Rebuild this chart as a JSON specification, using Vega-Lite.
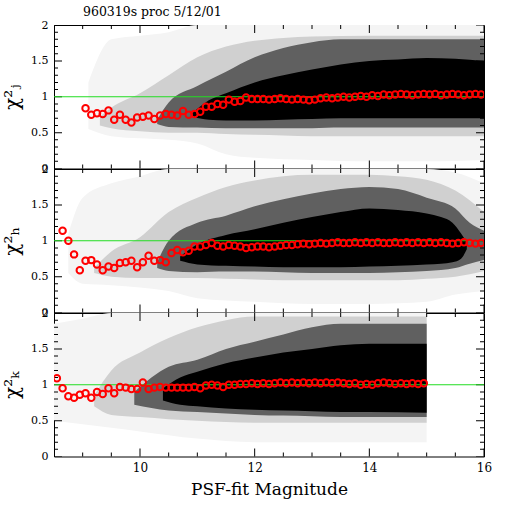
{
  "$schema": "https://vega.github.io/schema/vega-lite/v6.json",
  "background": "white",
  "padding": {"left": 2, "top": 5, "right": 5, "bottom": 5},
  "config": {
    "view": {"stroke": "black", "strokeWidth": 1},
    "axis": {
      "domain": false,
      "ticks": false,
      "grid": false,
      "labelColor": "black",
      "labelFont": "DejaVu Serif",
      "labelFontSize": 11,
      "labelOverlap": false,
      "labelFlush": false,
      "labelPadding": 6,
      "titleFont": "DejaVu Serif",
      "titleFontWeight": "normal",
      "titleColor": "black"
    },
    "tick": {"color": "black", "opacity": 1, "thickness": 1}
  },
  "datasets": {
    "ymaj": [{"v": 0}, {"v": 0.5}, {"v": 1}, {"v": 1.5}, {"v": 2}],
    "ymin": [{"v": 0.1}, {"v": 0.2}, {"v": 0.3}, {"v": 0.4}, {"v": 0.6}, {"v": 0.7}, {"v": 0.8}, {"v": 0.9},
             {"v": 1.1}, {"v": 1.2}, {"v": 1.3}, {"v": 1.4}, {"v": 1.6}, {"v": 1.7}, {"v": 1.8}, {"v": 1.9}],
    "xmaj": [{"v": 10}, {"v": 12}, {"v": 14}, {"v": 16}],
    "xmin": [{"v": 8.5}, {"v": 9}, {"v": 9.5}, {"v": 10.5}, {"v": 11}, {"v": 11.5}, {"v": 12.5}, {"v": 13},
             {"v": 13.5}, {"v": 14.5}, {"v": 15}, {"v": 15.5}],
    "cloud": [
      {"p": "J", "b": "s", "x": 9.1, "lo": 0.55, "hi": 1.2},
      {"p": "J", "b": "s", "x": 9.5, "lo": 0.45, "hi": 1.8},
      {"p": "J", "b": "s", "x": 10, "lo": 0.42, "hi": 1.85},
      {"p": "J", "b": "s", "x": 10.5, "lo": 0.4, "hi": 1.9},
      {"p": "J", "b": "s", "x": 11, "lo": 0.35, "hi": 2},
      {"p": "J", "b": "s", "x": 11.5, "lo": 0.2, "hi": 2},
      {"p": "J", "b": "s", "x": 12, "lo": 0.15, "hi": 2},
      {"p": "J", "b": "s", "x": 13, "lo": 0.12, "hi": 2},
      {"p": "J", "b": "s", "x": 14, "lo": 0.1, "hi": 2},
      {"p": "J", "b": "s", "x": 15, "lo": 0.1, "hi": 2},
      {"p": "J", "b": "s", "x": 16, "lo": 0.12, "hi": 2},
      {"p": "J", "b": "l", "x": 9.3, "lo": 0.6, "hi": 0.72},
      {"p": "J", "b": "l", "x": 9.5, "lo": 0.56, "hi": 0.85},
      {"p": "J", "b": "l", "x": 10, "lo": 0.52, "hi": 1.05},
      {"p": "J", "b": "l", "x": 10.5, "lo": 0.5, "hi": 1.3},
      {"p": "J", "b": "l", "x": 11, "lo": 0.5, "hi": 1.55},
      {"p": "J", "b": "l", "x": 11.5, "lo": 0.48, "hi": 1.7},
      {"p": "J", "b": "l", "x": 12, "lo": 0.47, "hi": 1.78},
      {"p": "J", "b": "l", "x": 12.5, "lo": 0.46, "hi": 1.82},
      {"p": "J", "b": "l", "x": 13, "lo": 0.45, "hi": 1.84},
      {"p": "J", "b": "l", "x": 14, "lo": 0.45, "hi": 1.85},
      {"p": "J", "b": "l", "x": 15, "lo": 0.45, "hi": 1.85},
      {"p": "J", "b": "l", "x": 16, "lo": 0.45, "hi": 1.85},
      {"p": "J", "b": "m", "x": 10.3, "lo": 0.62, "hi": 0.68},
      {"p": "J", "b": "m", "x": 10.5, "lo": 0.58, "hi": 0.92},
      {"p": "J", "b": "m", "x": 11, "lo": 0.57, "hi": 1.15},
      {"p": "J", "b": "m", "x": 11.5, "lo": 0.56, "hi": 1.35},
      {"p": "J", "b": "m", "x": 12, "lo": 0.56, "hi": 1.55},
      {"p": "J", "b": "m", "x": 12.5, "lo": 0.56, "hi": 1.68},
      {"p": "J", "b": "m", "x": 13, "lo": 0.56, "hi": 1.76},
      {"p": "J", "b": "m", "x": 13.5, "lo": 0.57, "hi": 1.8},
      {"p": "J", "b": "m", "x": 14, "lo": 0.57, "hi": 1.8},
      {"p": "J", "b": "m", "x": 15, "lo": 0.57, "hi": 1.8},
      {"p": "J", "b": "m", "x": 16, "lo": 0.57, "hi": 1.8},
      {"p": "J", "b": "c", "x": 10.9, "lo": 0.72, "hi": 0.76},
      {"p": "J", "b": "c", "x": 11.2, "lo": 0.68, "hi": 0.95},
      {"p": "J", "b": "c", "x": 11.5, "lo": 0.67, "hi": 1.05},
      {"p": "J", "b": "c", "x": 12, "lo": 0.67, "hi": 1.2},
      {"p": "J", "b": "c", "x": 12.5, "lo": 0.68, "hi": 1.3},
      {"p": "J", "b": "c", "x": 13, "lo": 0.69, "hi": 1.38},
      {"p": "J", "b": "c", "x": 13.5, "lo": 0.7, "hi": 1.45},
      {"p": "J", "b": "c", "x": 14, "lo": 0.7, "hi": 1.5},
      {"p": "J", "b": "c", "x": 14.5, "lo": 0.7, "hi": 1.52},
      {"p": "J", "b": "c", "x": 15, "lo": 0.7, "hi": 1.54},
      {"p": "J", "b": "c", "x": 15.5, "lo": 0.7, "hi": 1.53},
      {"p": "J", "b": "c", "x": 16, "lo": 0.7, "hi": 1.5},

      {"p": "H", "b": "s", "x": 8.75, "lo": 0.55, "hi": 1.1},
      {"p": "H", "b": "s", "x": 9, "lo": 0.4, "hi": 1.6},
      {"p": "H", "b": "s", "x": 9.5, "lo": 0.38, "hi": 1.8},
      {"p": "H", "b": "s", "x": 10, "lo": 0.35, "hi": 1.9},
      {"p": "H", "b": "s", "x": 10.5, "lo": 0.3, "hi": 2},
      {"p": "H", "b": "s", "x": 11, "lo": 0.2, "hi": 2},
      {"p": "H", "b": "s", "x": 12, "lo": 0.15, "hi": 2},
      {"p": "H", "b": "s", "x": 13, "lo": 0.12, "hi": 2},
      {"p": "H", "b": "s", "x": 14, "lo": 0.12, "hi": 2},
      {"p": "H", "b": "s", "x": 15, "lo": 0.15, "hi": 2},
      {"p": "H", "b": "s", "x": 15.5, "lo": 0.25, "hi": 1.95},
      {"p": "H", "b": "s", "x": 16, "lo": 0.3, "hi": 1.8},
      {"p": "H", "b": "l", "x": 9.2, "lo": 0.55, "hi": 0.62},
      {"p": "H", "b": "l", "x": 9.5, "lo": 0.5, "hi": 0.85},
      {"p": "H", "b": "l", "x": 10, "lo": 0.48, "hi": 1.05},
      {"p": "H", "b": "l", "x": 10.5, "lo": 0.48, "hi": 1.4},
      {"p": "H", "b": "l", "x": 11, "lo": 0.48, "hi": 1.6},
      {"p": "H", "b": "l", "x": 11.5, "lo": 0.47, "hi": 1.75},
      {"p": "H", "b": "l", "x": 12, "lo": 0.46, "hi": 1.84},
      {"p": "H", "b": "l", "x": 12.5, "lo": 0.45, "hi": 1.9},
      {"p": "H", "b": "l", "x": 13, "lo": 0.45, "hi": 1.92},
      {"p": "H", "b": "l", "x": 14, "lo": 0.45, "hi": 1.92},
      {"p": "H", "b": "l", "x": 14.5, "lo": 0.45, "hi": 1.9},
      {"p": "H", "b": "l", "x": 15, "lo": 0.47, "hi": 1.85},
      {"p": "H", "b": "l", "x": 15.5, "lo": 0.5, "hi": 1.7},
      {"p": "H", "b": "l", "x": 16, "lo": 0.58, "hi": 1.4},
      {"p": "H", "b": "m", "x": 10.3, "lo": 0.62, "hi": 0.7},
      {"p": "H", "b": "m", "x": 10.5, "lo": 0.58, "hi": 1.0},
      {"p": "H", "b": "m", "x": 11, "lo": 0.56, "hi": 1.25},
      {"p": "H", "b": "m", "x": 11.5, "lo": 0.57, "hi": 1.35},
      {"p": "H", "b": "m", "x": 12, "lo": 0.57, "hi": 1.48},
      {"p": "H", "b": "m", "x": 12.5, "lo": 0.56, "hi": 1.58},
      {"p": "H", "b": "m", "x": 13, "lo": 0.55, "hi": 1.66},
      {"p": "H", "b": "m", "x": 13.5, "lo": 0.55, "hi": 1.72},
      {"p": "H", "b": "m", "x": 14, "lo": 0.55, "hi": 1.75},
      {"p": "H", "b": "m", "x": 14.5, "lo": 0.56, "hi": 1.72},
      {"p": "H", "b": "m", "x": 15, "lo": 0.58, "hi": 1.6},
      {"p": "H", "b": "m", "x": 15.5, "lo": 0.62, "hi": 1.45},
      {"p": "H", "b": "m", "x": 15.75, "lo": 0.68, "hi": 1.25},
      {"p": "H", "b": "m", "x": 16, "lo": 0.73, "hi": 1.14},
      {"p": "H", "b": "c", "x": 10.7, "lo": 0.72, "hi": 0.78},
      {"p": "H", "b": "c", "x": 11, "lo": 0.67, "hi": 0.95},
      {"p": "H", "b": "c", "x": 11.5, "lo": 0.65, "hi": 1.08},
      {"p": "H", "b": "c", "x": 12, "lo": 0.64, "hi": 1.16},
      {"p": "H", "b": "c", "x": 12.5, "lo": 0.63, "hi": 1.25},
      {"p": "H", "b": "c", "x": 13, "lo": 0.63, "hi": 1.33},
      {"p": "H", "b": "c", "x": 13.5, "lo": 0.63, "hi": 1.4},
      {"p": "H", "b": "c", "x": 14, "lo": 0.64, "hi": 1.45},
      {"p": "H", "b": "c", "x": 14.5, "lo": 0.65, "hi": 1.43},
      {"p": "H", "b": "c", "x": 15, "lo": 0.67, "hi": 1.38},
      {"p": "H", "b": "c", "x": 15.25, "lo": 0.68, "hi": 1.33},
      {"p": "H", "b": "c", "x": 15.45, "lo": 0.7, "hi": 1.25},
      {"p": "H", "b": "c", "x": 15.6, "lo": 0.75, "hi": 1.1},
      {"p": "H", "b": "c", "x": 15.7, "lo": 0.88, "hi": 0.98},

      {"p": "K", "b": "s", "x": 8.5, "lo": 0.5, "hi": 1.85},
      {"p": "K", "b": "s", "x": 9, "lo": 0.45, "hi": 1.92},
      {"p": "K", "b": "s", "x": 9.5, "lo": 0.4, "hi": 2},
      {"p": "K", "b": "s", "x": 10, "lo": 0.35, "hi": 2},
      {"p": "K", "b": "s", "x": 11, "lo": 0.25, "hi": 2},
      {"p": "K", "b": "s", "x": 12, "lo": 0.2, "hi": 2},
      {"p": "K", "b": "s", "x": 15, "lo": 0.2, "hi": 2},
      {"p": "K", "b": "l", "x": 9.2, "lo": 0.7, "hi": 0.85},
      {"p": "K", "b": "l", "x": 9.5, "lo": 0.58, "hi": 1.2},
      {"p": "K", "b": "l", "x": 10, "lo": 0.55, "hi": 1.45},
      {"p": "K", "b": "l", "x": 10.5, "lo": 0.52, "hi": 1.65},
      {"p": "K", "b": "l", "x": 11, "lo": 0.5, "hi": 1.8},
      {"p": "K", "b": "l", "x": 11.5, "lo": 0.48, "hi": 1.9},
      {"p": "K", "b": "l", "x": 12, "lo": 0.47, "hi": 1.95},
      {"p": "K", "b": "l", "x": 15, "lo": 0.47, "hi": 1.95},
      {"p": "K", "b": "m", "x": 9.9, "lo": 0.72, "hi": 0.9},
      {"p": "K", "b": "m", "x": 10.5, "lo": 0.64, "hi": 1.25},
      {"p": "K", "b": "m", "x": 11, "lo": 0.62, "hi": 1.35},
      {"p": "K", "b": "m", "x": 11.5, "lo": 0.6, "hi": 1.5},
      {"p": "K", "b": "m", "x": 12, "lo": 0.58, "hi": 1.6},
      {"p": "K", "b": "m", "x": 12.5, "lo": 0.57, "hi": 1.7},
      {"p": "K", "b": "m", "x": 13, "lo": 0.56, "hi": 1.8},
      {"p": "K", "b": "m", "x": 13.5, "lo": 0.55, "hi": 1.85},
      {"p": "K", "b": "m", "x": 15, "lo": 0.55, "hi": 1.85},
      {"p": "K", "b": "c", "x": 10.4, "lo": 0.78, "hi": 0.95},
      {"p": "K", "b": "c", "x": 10.7, "lo": 0.72, "hi": 1.1},
      {"p": "K", "b": "c", "x": 11, "lo": 0.7, "hi": 1.18},
      {"p": "K", "b": "c", "x": 11.5, "lo": 0.67, "hi": 1.3},
      {"p": "K", "b": "c", "x": 12, "lo": 0.65, "hi": 1.38},
      {"p": "K", "b": "c", "x": 12.5, "lo": 0.64, "hi": 1.45},
      {"p": "K", "b": "c", "x": 13, "lo": 0.63, "hi": 1.5},
      {"p": "K", "b": "c", "x": 13.5, "lo": 0.62, "hi": 1.55},
      {"p": "K", "b": "c", "x": 14, "lo": 0.62, "hi": 1.57},
      {"p": "K", "b": "c", "x": 15, "lo": 0.61, "hi": 1.57}
    ],
    "med": [
      {"p": "J", "x": 9.05, "v": 0.84}, {"p": "J", "x": 9.15, "v": 0.75}, {"p": "J", "x": 9.25, "v": 0.77},
      {"p": "J", "x": 9.35, "v": 0.76}, {"p": "J", "x": 9.45, "v": 0.81}, {"p": "J", "x": 9.55, "v": 0.68},
      {"p": "J", "x": 9.65, "v": 0.75}, {"p": "J", "x": 9.75, "v": 0.68}, {"p": "J", "x": 9.85, "v": 0.64},
      {"p": "J", "x": 9.95, "v": 0.71}, {"p": "J", "x": 10.05, "v": 0.72}, {"p": "J", "x": 10.15, "v": 0.74},
      {"p": "J", "x": 10.25, "v": 0.69}, {"p": "J", "x": 10.35, "v": 0.74}, {"p": "J", "x": 10.45, "v": 0.76},
      {"p": "J", "x": 10.55, "v": 0.75}, {"p": "J", "x": 10.65, "v": 0.74}, {"p": "J", "x": 10.75, "v": 0.8},
      {"p": "J", "x": 10.85, "v": 0.75}, {"p": "J", "x": 10.95, "v": 0.76}, {"p": "J", "x": 11.05, "v": 0.79},
      {"p": "J", "x": 11.15, "v": 0.86}, {"p": "J", "x": 11.25, "v": 0.86}, {"p": "J", "x": 11.35, "v": 0.9},
      {"p": "J", "x": 11.45, "v": 0.89}, {"p": "J", "x": 11.55, "v": 0.96}, {"p": "J", "x": 11.65, "v": 0.93},
      {"p": "J", "x": 11.75, "v": 0.94}, {"p": "J", "x": 11.85, "v": 0.99}, {"p": "J", "x": 11.95, "v": 0.97},
      {"p": "J", "x": 12.05, "v": 0.97}, {"p": "J", "x": 12.15, "v": 0.97}, {"p": "J", "x": 12.25, "v": 0.96},
      {"p": "J", "x": 12.35, "v": 0.97}, {"p": "J", "x": 12.45, "v": 0.98}, {"p": "J", "x": 12.55, "v": 0.97},
      {"p": "J", "x": 12.65, "v": 0.96}, {"p": "J", "x": 12.75, "v": 0.97}, {"p": "J", "x": 12.85, "v": 0.96},
      {"p": "J", "x": 12.95, "v": 0.95}, {"p": "J", "x": 13.05, "v": 0.96}, {"p": "J", "x": 13.15, "v": 0.98},
      {"p": "J", "x": 13.25, "v": 0.99}, {"p": "J", "x": 13.35, "v": 0.98}, {"p": "J", "x": 13.45, "v": 0.99},
      {"p": "J", "x": 13.55, "v": 1.0}, {"p": "J", "x": 13.65, "v": 0.99}, {"p": "J", "x": 13.75, "v": 1.0},
      {"p": "J", "x": 13.85, "v": 1.01}, {"p": "J", "x": 13.95, "v": 1.0}, {"p": "J", "x": 14.05, "v": 1.02},
      {"p": "J", "x": 14.15, "v": 1.01}, {"p": "J", "x": 14.25, "v": 1.03}, {"p": "J", "x": 14.35, "v": 1.02},
      {"p": "J", "x": 14.45, "v": 1.03}, {"p": "J", "x": 14.55, "v": 1.04}, {"p": "J", "x": 14.65, "v": 1.03},
      {"p": "J", "x": 14.75, "v": 1.02}, {"p": "J", "x": 14.85, "v": 1.03}, {"p": "J", "x": 14.95, "v": 1.04},
      {"p": "J", "x": 15.05, "v": 1.03}, {"p": "J", "x": 15.15, "v": 1.04}, {"p": "J", "x": 15.25, "v": 1.02},
      {"p": "J", "x": 15.35, "v": 1.03}, {"p": "J", "x": 15.45, "v": 1.04}, {"p": "J", "x": 15.55, "v": 1.03},
      {"p": "J", "x": 15.65, "v": 1.02}, {"p": "J", "x": 15.75, "v": 1.03}, {"p": "J", "x": 15.85, "v": 1.04},
      {"p": "J", "x": 15.95, "v": 1.03},

      {"p": "H", "x": 8.65, "v": 1.14}, {"p": "H", "x": 8.75, "v": 1.0}, {"p": "H", "x": 8.85, "v": 0.81},
      {"p": "H", "x": 8.95, "v": 0.59}, {"p": "H", "x": 9.05, "v": 0.72}, {"p": "H", "x": 9.15, "v": 0.73},
      {"p": "H", "x": 9.25, "v": 0.67}, {"p": "H", "x": 9.35, "v": 0.59}, {"p": "H", "x": 9.45, "v": 0.64},
      {"p": "H", "x": 9.55, "v": 0.62}, {"p": "H", "x": 9.65, "v": 0.69}, {"p": "H", "x": 9.75, "v": 0.7},
      {"p": "H", "x": 9.85, "v": 0.72}, {"p": "H", "x": 9.95, "v": 0.63}, {"p": "H", "x": 10.05, "v": 0.7},
      {"p": "H", "x": 10.15, "v": 0.79}, {"p": "H", "x": 10.25, "v": 0.72}, {"p": "H", "x": 10.35, "v": 0.73},
      {"p": "H", "x": 10.45, "v": 0.7}, {"p": "H", "x": 10.55, "v": 0.83}, {"p": "H", "x": 10.65, "v": 0.87},
      {"p": "H", "x": 10.75, "v": 0.84}, {"p": "H", "x": 10.85, "v": 0.86}, {"p": "H", "x": 10.95, "v": 0.92},
      {"p": "H", "x": 11.05, "v": 0.92}, {"p": "H", "x": 11.15, "v": 0.94}, {"p": "H", "x": 11.25, "v": 0.97},
      {"p": "H", "x": 11.35, "v": 0.93}, {"p": "H", "x": 11.45, "v": 0.92}, {"p": "H", "x": 11.55, "v": 0.94},
      {"p": "H", "x": 11.65, "v": 0.93}, {"p": "H", "x": 11.75, "v": 0.92}, {"p": "H", "x": 11.85, "v": 0.9},
      {"p": "H", "x": 11.95, "v": 0.91}, {"p": "H", "x": 12.05, "v": 0.92}, {"p": "H", "x": 12.15, "v": 0.92},
      {"p": "H", "x": 12.25, "v": 0.91}, {"p": "H", "x": 12.35, "v": 0.92}, {"p": "H", "x": 12.45, "v": 0.93},
      {"p": "H", "x": 12.55, "v": 0.94}, {"p": "H", "x": 12.65, "v": 0.94}, {"p": "H", "x": 12.75, "v": 0.95},
      {"p": "H", "x": 12.85, "v": 0.96}, {"p": "H", "x": 12.95, "v": 0.95}, {"p": "H", "x": 13.05, "v": 0.96},
      {"p": "H", "x": 13.15, "v": 0.97}, {"p": "H", "x": 13.25, "v": 0.96}, {"p": "H", "x": 13.35, "v": 0.97},
      {"p": "H", "x": 13.45, "v": 0.98}, {"p": "H", "x": 13.55, "v": 0.97}, {"p": "H", "x": 13.65, "v": 0.97},
      {"p": "H", "x": 13.75, "v": 0.98}, {"p": "H", "x": 13.85, "v": 0.97}, {"p": "H", "x": 13.95, "v": 0.98},
      {"p": "H", "x": 14.05, "v": 0.97}, {"p": "H", "x": 14.15, "v": 0.98}, {"p": "H", "x": 14.25, "v": 0.97},
      {"p": "H", "x": 14.35, "v": 0.97}, {"p": "H", "x": 14.45, "v": 0.98}, {"p": "H", "x": 14.55, "v": 0.97},
      {"p": "H", "x": 14.65, "v": 0.98}, {"p": "H", "x": 14.75, "v": 0.97}, {"p": "H", "x": 14.85, "v": 0.98},
      {"p": "H", "x": 14.95, "v": 0.97}, {"p": "H", "x": 15.05, "v": 0.98}, {"p": "H", "x": 15.15, "v": 0.97},
      {"p": "H", "x": 15.25, "v": 0.98}, {"p": "H", "x": 15.35, "v": 0.97}, {"p": "H", "x": 15.45, "v": 0.96},
      {"p": "H", "x": 15.55, "v": 0.97}, {"p": "H", "x": 15.65, "v": 0.98}, {"p": "H", "x": 15.75, "v": 0.97},
      {"p": "H", "x": 15.85, "v": 0.96}, {"p": "H", "x": 15.95, "v": 0.97},

      {"p": "K", "x": 8.55, "v": 1.09}, {"p": "K", "x": 8.65, "v": 0.95}, {"p": "K", "x": 8.75, "v": 0.84},
      {"p": "K", "x": 8.85, "v": 0.82}, {"p": "K", "x": 8.95, "v": 0.86}, {"p": "K", "x": 9.05, "v": 0.88},
      {"p": "K", "x": 9.15, "v": 0.82}, {"p": "K", "x": 9.25, "v": 0.9}, {"p": "K", "x": 9.35, "v": 0.87},
      {"p": "K", "x": 9.45, "v": 0.95}, {"p": "K", "x": 9.55, "v": 0.88}, {"p": "K", "x": 9.65, "v": 0.97},
      {"p": "K", "x": 9.75, "v": 0.96}, {"p": "K", "x": 9.85, "v": 0.94}, {"p": "K", "x": 9.95, "v": 0.94},
      {"p": "K", "x": 10.05, "v": 1.03}, {"p": "K", "x": 10.15, "v": 0.94}, {"p": "K", "x": 10.25, "v": 0.96},
      {"p": "K", "x": 10.35, "v": 0.97}, {"p": "K", "x": 10.45, "v": 0.96}, {"p": "K", "x": 10.55, "v": 0.96},
      {"p": "K", "x": 10.65, "v": 0.96}, {"p": "K", "x": 10.75, "v": 0.96}, {"p": "K", "x": 10.85, "v": 0.96},
      {"p": "K", "x": 10.95, "v": 0.97}, {"p": "K", "x": 11.05, "v": 0.95}, {"p": "K", "x": 11.15, "v": 0.99},
      {"p": "K", "x": 11.25, "v": 1.0}, {"p": "K", "x": 11.35, "v": 0.99}, {"p": "K", "x": 11.45, "v": 0.97},
      {"p": "K", "x": 11.55, "v": 1.0}, {"p": "K", "x": 11.65, "v": 1.0}, {"p": "K", "x": 11.75, "v": 1.01},
      {"p": "K", "x": 11.85, "v": 1.01}, {"p": "K", "x": 11.95, "v": 1.02}, {"p": "K", "x": 12.05, "v": 1.01},
      {"p": "K", "x": 12.15, "v": 1.02}, {"p": "K", "x": 12.25, "v": 1.01}, {"p": "K", "x": 12.35, "v": 1.02},
      {"p": "K", "x": 12.45, "v": 1.03}, {"p": "K", "x": 12.55, "v": 1.02}, {"p": "K", "x": 12.65, "v": 1.03},
      {"p": "K", "x": 12.75, "v": 1.02}, {"p": "K", "x": 12.85, "v": 1.03}, {"p": "K", "x": 12.95, "v": 1.02},
      {"p": "K", "x": 13.05, "v": 1.03}, {"p": "K", "x": 13.15, "v": 1.02}, {"p": "K", "x": 13.25, "v": 1.03},
      {"p": "K", "x": 13.35, "v": 1.02}, {"p": "K", "x": 13.45, "v": 1.03}, {"p": "K", "x": 13.55, "v": 1.02},
      {"p": "K", "x": 13.65, "v": 1.01}, {"p": "K", "x": 13.75, "v": 1.02}, {"p": "K", "x": 13.85, "v": 1.0},
      {"p": "K", "x": 13.95, "v": 1.01}, {"p": "K", "x": 14.05, "v": 1.0}, {"p": "K", "x": 14.15, "v": 1.02},
      {"p": "K", "x": 14.25, "v": 1.03}, {"p": "K", "x": 14.35, "v": 1.02}, {"p": "K", "x": 14.45, "v": 1.01},
      {"p": "K", "x": 14.55, "v": 1.02}, {"p": "K", "x": 14.65, "v": 1.01}, {"p": "K", "x": 14.75, "v": 1.02},
      {"p": "K", "x": 14.85, "v": 1.01}, {"p": "K", "x": 14.95, "v": 1.02}
    ]
  },
  "bounds": "flush",
  "spacing": 0,
  "vconcat": [
    {
      "width": 430,
      "height": 143.5,
      "title": {"text": "960319s proc 5/12/01", "anchor": "start", "frame": "group", "dx": 29, "offset": 1, "font": "DejaVu Serif", "fontSize": 12.5, "fontWeight": "normal", "color": "black"},
      "layer": [
        {
          "data": {"name": "cloud"},
          "transform": [{"filter": "datum.p == 'J' && datum.b == 's'"}],
          "mark": {"type": "area", "color": "#f4f4f4", "interpolate": "monotone", "clip": true},
          "encoding": {
            "x": {"field": "x", "type": "quantitative", "scale": {"domain": [8.5, 16], "nice": false, "zero": false},
                  "axis": {"orient": "bottom", "values": [10, 12, 14, 16], "labels": false, "title": null}},
            "y": {"field": "lo", "type": "quantitative", "scale": {"domain": [0, 2], "nice": false},
                  "axis": {"orient": "left", "values": [0, 0.5, 1, 1.5, 2], "format": "~g", "title": "χ²ⱼ", "titleFontSize": 20, "titlePadding": 8}},
            "y2": {"field": "hi"}
          }
        },
        {
          "data": {"name": "cloud"},
          "transform": [{"filter": "datum.p == 'J' && datum.b == 'l'"}],
          "mark": {"type": "area", "color": "#d0d0d0", "interpolate": "monotone", "clip": true},
          "encoding": {"x": {"field": "x", "type": "quantitative", "axis": null}, "y": {"field": "lo", "type": "quantitative", "axis": null}, "y2": {"field": "hi"}}
        },
        {
          "data": {"name": "cloud"},
          "transform": [{"filter": "datum.p == 'J' && datum.b == 'm'"}],
          "mark": {"type": "area", "color": "#606060", "interpolate": "monotone", "clip": true},
          "encoding": {"x": {"field": "x", "type": "quantitative", "axis": null}, "y": {"field": "lo", "type": "quantitative", "axis": null}, "y2": {"field": "hi"}}
        },
        {
          "data": {"name": "cloud"},
          "transform": [{"filter": "datum.p == 'J' && datum.b == 'c'"}],
          "mark": {"type": "area", "color": "#000000", "interpolate": "monotone", "clip": true},
          "encoding": {"x": {"field": "x", "type": "quantitative", "axis": null}, "y": {"field": "lo", "type": "quantitative", "axis": null}, "y2": {"field": "hi"}}
        },
        {"data": {"name": "ymaj"}, "mark": {"type": "tick", "orient": "horizontal", "size": 16, "clip": true},
         "encoding": {"x": {"datum": 8.5, "type": "quantitative", "axis": null}, "y": {"field": "v", "type": "quantitative", "axis": null}}},
        {"data": {"name": "ymaj"}, "mark": {"type": "tick", "orient": "horizontal", "size": 16, "clip": true},
         "encoding": {"x": {"datum": 16, "type": "quantitative", "axis": null}, "y": {"field": "v", "type": "quantitative", "axis": null}}},
        {"data": {"name": "ymin"}, "mark": {"type": "tick", "orient": "horizontal", "size": 8, "clip": true},
         "encoding": {"x": {"datum": 8.5, "type": "quantitative", "axis": null}, "y": {"field": "v", "type": "quantitative", "axis": null}}},
        {"data": {"name": "ymin"}, "mark": {"type": "tick", "orient": "horizontal", "size": 8, "clip": true},
         "encoding": {"x": {"datum": 16, "type": "quantitative", "axis": null}, "y": {"field": "v", "type": "quantitative", "axis": null}}},
        {"data": {"name": "xmaj"}, "mark": {"type": "tick", "orient": "vertical", "size": 16, "clip": true},
         "encoding": {"x": {"field": "v", "type": "quantitative", "axis": null}, "y": {"datum": 0, "type": "quantitative", "axis": null}}},
        {"data": {"name": "xmaj"}, "mark": {"type": "tick", "orient": "vertical", "size": 16, "clip": true},
         "encoding": {"x": {"field": "v", "type": "quantitative", "axis": null}, "y": {"datum": 2, "type": "quantitative", "axis": null}}},
        {"data": {"name": "xmin"}, "mark": {"type": "tick", "orient": "vertical", "size": 8, "clip": true},
         "encoding": {"x": {"field": "v", "type": "quantitative", "axis": null}, "y": {"datum": 0, "type": "quantitative", "axis": null}}},
        {"data": {"name": "xmin"}, "mark": {"type": "tick", "orient": "vertical", "size": 8, "clip": true},
         "encoding": {"x": {"field": "v", "type": "quantitative", "axis": null}, "y": {"datum": 2, "type": "quantitative", "axis": null}}},
        {
          "data": {"values": [{}]},
          "mark": {"type": "rule", "color": "#22dd22", "strokeWidth": 1},
          "encoding": {"y": {"datum": 1, "type": "quantitative", "axis": null}}
        },
        {
          "data": {"name": "med"},
          "transform": [{"filter": "datum.p == 'J'"}],
          "mark": {"type": "point", "shape": "circle", "filled": false, "stroke": "#ff0000", "strokeWidth": 2, "size": 42, "opacity": 1, "clip": true},
          "encoding": {"x": {"field": "x", "type": "quantitative", "axis": null}, "y": {"field": "v", "type": "quantitative", "axis": null}}
        }
      ],
      "resolve": {"axis": {"x": "independent", "y": "independent"}}
    },
    {
      "width": 430,
      "height": 143.5,
      "layer": [
        {
          "data": {"name": "cloud"},
          "transform": [{"filter": "datum.p == 'H' && datum.b == 's'"}],
          "mark": {"type": "area", "color": "#f4f4f4", "interpolate": "monotone", "clip": true},
          "encoding": {
            "x": {"field": "x", "type": "quantitative", "scale": {"domain": [8.5, 16], "nice": false, "zero": false},
                  "axis": {"orient": "bottom", "values": [10, 12, 14, 16], "labels": false, "title": null}},
            "y": {"field": "lo", "type": "quantitative", "scale": {"domain": [0, 2], "nice": false},
                  "axis": {"orient": "left", "values": [0, 0.5, 1, 1.5, 2], "format": "~g", "title": "χ²ₕ", "titleFontSize": 20, "titlePadding": 8}},
            "y2": {"field": "hi"}
          }
        },
        {
          "data": {"name": "cloud"},
          "transform": [{"filter": "datum.p == 'H' && datum.b == 'l'"}],
          "mark": {"type": "area", "color": "#d0d0d0", "interpolate": "monotone", "clip": true},
          "encoding": {"x": {"field": "x", "type": "quantitative", "axis": null}, "y": {"field": "lo", "type": "quantitative", "axis": null}, "y2": {"field": "hi"}}
        },
        {
          "data": {"name": "cloud"},
          "transform": [{"filter": "datum.p == 'H' && datum.b == 'm'"}],
          "mark": {"type": "area", "color": "#606060", "interpolate": "monotone", "clip": true},
          "encoding": {"x": {"field": "x", "type": "quantitative", "axis": null}, "y": {"field": "lo", "type": "quantitative", "axis": null}, "y2": {"field": "hi"}}
        },
        {
          "data": {"name": "cloud"},
          "transform": [{"filter": "datum.p == 'H' && datum.b == 'c'"}],
          "mark": {"type": "area", "color": "#000000", "interpolate": "monotone", "clip": true},
          "encoding": {"x": {"field": "x", "type": "quantitative", "axis": null}, "y": {"field": "lo", "type": "quantitative", "axis": null}, "y2": {"field": "hi"}}
        },
        {"data": {"name": "ymaj"}, "mark": {"type": "tick", "orient": "horizontal", "size": 16, "clip": true},
         "encoding": {"x": {"datum": 8.5, "type": "quantitative", "axis": null}, "y": {"field": "v", "type": "quantitative", "axis": null}}},
        {"data": {"name": "ymaj"}, "mark": {"type": "tick", "orient": "horizontal", "size": 16, "clip": true},
         "encoding": {"x": {"datum": 16, "type": "quantitative", "axis": null}, "y": {"field": "v", "type": "quantitative", "axis": null}}},
        {"data": {"name": "ymin"}, "mark": {"type": "tick", "orient": "horizontal", "size": 8, "clip": true},
         "encoding": {"x": {"datum": 8.5, "type": "quantitative", "axis": null}, "y": {"field": "v", "type": "quantitative", "axis": null}}},
        {"data": {"name": "ymin"}, "mark": {"type": "tick", "orient": "horizontal", "size": 8, "clip": true},
         "encoding": {"x": {"datum": 16, "type": "quantitative", "axis": null}, "y": {"field": "v", "type": "quantitative", "axis": null}}},
        {"data": {"name": "xmaj"}, "mark": {"type": "tick", "orient": "vertical", "size": 16, "clip": true},
         "encoding": {"x": {"field": "v", "type": "quantitative", "axis": null}, "y": {"datum": 0, "type": "quantitative", "axis": null}}},
        {"data": {"name": "xmaj"}, "mark": {"type": "tick", "orient": "vertical", "size": 16, "clip": true},
         "encoding": {"x": {"field": "v", "type": "quantitative", "axis": null}, "y": {"datum": 2, "type": "quantitative", "axis": null}}},
        {"data": {"name": "xmin"}, "mark": {"type": "tick", "orient": "vertical", "size": 8, "clip": true},
         "encoding": {"x": {"field": "v", "type": "quantitative", "axis": null}, "y": {"datum": 0, "type": "quantitative", "axis": null}}},
        {"data": {"name": "xmin"}, "mark": {"type": "tick", "orient": "vertical", "size": 8, "clip": true},
         "encoding": {"x": {"field": "v", "type": "quantitative", "axis": null}, "y": {"datum": 2, "type": "quantitative", "axis": null}}},
        {
          "data": {"values": [{}]},
          "mark": {"type": "rule", "color": "#22dd22", "strokeWidth": 1},
          "encoding": {"y": {"datum": 1, "type": "quantitative", "axis": null}}
        },
        {
          "data": {"name": "med"},
          "transform": [{"filter": "datum.p == 'H'"}],
          "mark": {"type": "point", "shape": "circle", "filled": false, "stroke": "#ff0000", "strokeWidth": 2, "size": 42, "opacity": 1, "clip": true},
          "encoding": {"x": {"field": "x", "type": "quantitative", "axis": null}, "y": {"field": "v", "type": "quantitative", "axis": null}}
        }
      ],
      "resolve": {"axis": {"x": "independent", "y": "independent"}}
    },
    {
      "width": 430,
      "height": 143.5,
      "layer": [
        {
          "data": {"name": "cloud"},
          "transform": [{"filter": "datum.p == 'K' && datum.b == 's'"}],
          "mark": {"type": "area", "color": "#f4f4f4", "interpolate": "monotone", "clip": true},
          "encoding": {
            "x": {"field": "x", "type": "quantitative", "scale": {"domain": [8.5, 16], "nice": false, "zero": false},
                  "axis": {"orient": "bottom", "values": [10, 12, 14, 16], "format": "d", "labelFontSize": 12, "title": "PSF-fit Magnitude", "titleFontSize": 17, "titlePadding": 8}},
            "y": {"field": "lo", "type": "quantitative", "scale": {"domain": [0, 2], "nice": false},
                  "axis": {"orient": "left", "values": [0, 0.5, 1, 1.5, 2], "format": "~g", "title": "χ²ₖ", "titleFontSize": 20, "titlePadding": 8}},
            "y2": {"field": "hi"}
          }
        },
        {
          "data": {"name": "cloud"},
          "transform": [{"filter": "datum.p == 'K' && datum.b == 'l'"}],
          "mark": {"type": "area", "color": "#d0d0d0", "interpolate": "monotone", "clip": true},
          "encoding": {"x": {"field": "x", "type": "quantitative", "axis": null}, "y": {"field": "lo", "type": "quantitative", "axis": null}, "y2": {"field": "hi"}}
        },
        {
          "data": {"name": "cloud"},
          "transform": [{"filter": "datum.p == 'K' && datum.b == 'm'"}],
          "mark": {"type": "area", "color": "#606060", "interpolate": "monotone", "clip": true},
          "encoding": {"x": {"field": "x", "type": "quantitative", "axis": null}, "y": {"field": "lo", "type": "quantitative", "axis": null}, "y2": {"field": "hi"}}
        },
        {
          "data": {"name": "cloud"},
          "transform": [{"filter": "datum.p == 'K' && datum.b == 'c'"}],
          "mark": {"type": "area", "color": "#000000", "interpolate": "monotone", "clip": true},
          "encoding": {"x": {"field": "x", "type": "quantitative", "axis": null}, "y": {"field": "lo", "type": "quantitative", "axis": null}, "y2": {"field": "hi"}}
        },
        {"data": {"name": "ymaj"}, "mark": {"type": "tick", "orient": "horizontal", "size": 16, "clip": true},
         "encoding": {"x": {"datum": 8.5, "type": "quantitative", "axis": null}, "y": {"field": "v", "type": "quantitative", "axis": null}}},
        {"data": {"name": "ymaj"}, "mark": {"type": "tick", "orient": "horizontal", "size": 16, "clip": true},
         "encoding": {"x": {"datum": 16, "type": "quantitative", "axis": null}, "y": {"field": "v", "type": "quantitative", "axis": null}}},
        {"data": {"name": "ymin"}, "mark": {"type": "tick", "orient": "horizontal", "size": 8, "clip": true},
         "encoding": {"x": {"datum": 8.5, "type": "quantitative", "axis": null}, "y": {"field": "v", "type": "quantitative", "axis": null}}},
        {"data": {"name": "ymin"}, "mark": {"type": "tick", "orient": "horizontal", "size": 8, "clip": true},
         "encoding": {"x": {"datum": 16, "type": "quantitative", "axis": null}, "y": {"field": "v", "type": "quantitative", "axis": null}}},
        {"data": {"name": "xmaj"}, "mark": {"type": "tick", "orient": "vertical", "size": 16, "clip": true},
         "encoding": {"x": {"field": "v", "type": "quantitative", "axis": null}, "y": {"datum": 0, "type": "quantitative", "axis": null}}},
        {"data": {"name": "xmaj"}, "mark": {"type": "tick", "orient": "vertical", "size": 16, "clip": true},
         "encoding": {"x": {"field": "v", "type": "quantitative", "axis": null}, "y": {"datum": 2, "type": "quantitative", "axis": null}}},
        {"data": {"name": "xmin"}, "mark": {"type": "tick", "orient": "vertical", "size": 8, "clip": true},
         "encoding": {"x": {"field": "v", "type": "quantitative", "axis": null}, "y": {"datum": 0, "type": "quantitative", "axis": null}}},
        {"data": {"name": "xmin"}, "mark": {"type": "tick", "orient": "vertical", "size": 8, "clip": true},
         "encoding": {"x": {"field": "v", "type": "quantitative", "axis": null}, "y": {"datum": 2, "type": "quantitative", "axis": null}}},
        {
          "data": {"values": [{}]},
          "mark": {"type": "rule", "color": "#22dd22", "strokeWidth": 1},
          "encoding": {"y": {"datum": 1, "type": "quantitative", "axis": null}}
        },
        {
          "data": {"name": "med"},
          "transform": [{"filter": "datum.p == 'K'"}],
          "mark": {"type": "point", "shape": "circle", "filled": false, "stroke": "#ff0000", "strokeWidth": 2, "size": 42, "opacity": 1, "clip": true},
          "encoding": {"x": {"field": "x", "type": "quantitative", "axis": null}, "y": {"field": "v", "type": "quantitative", "axis": null}}
        }
      ],
      "resolve": {"axis": {"x": "independent", "y": "independent"}}
    }
  ]
}
